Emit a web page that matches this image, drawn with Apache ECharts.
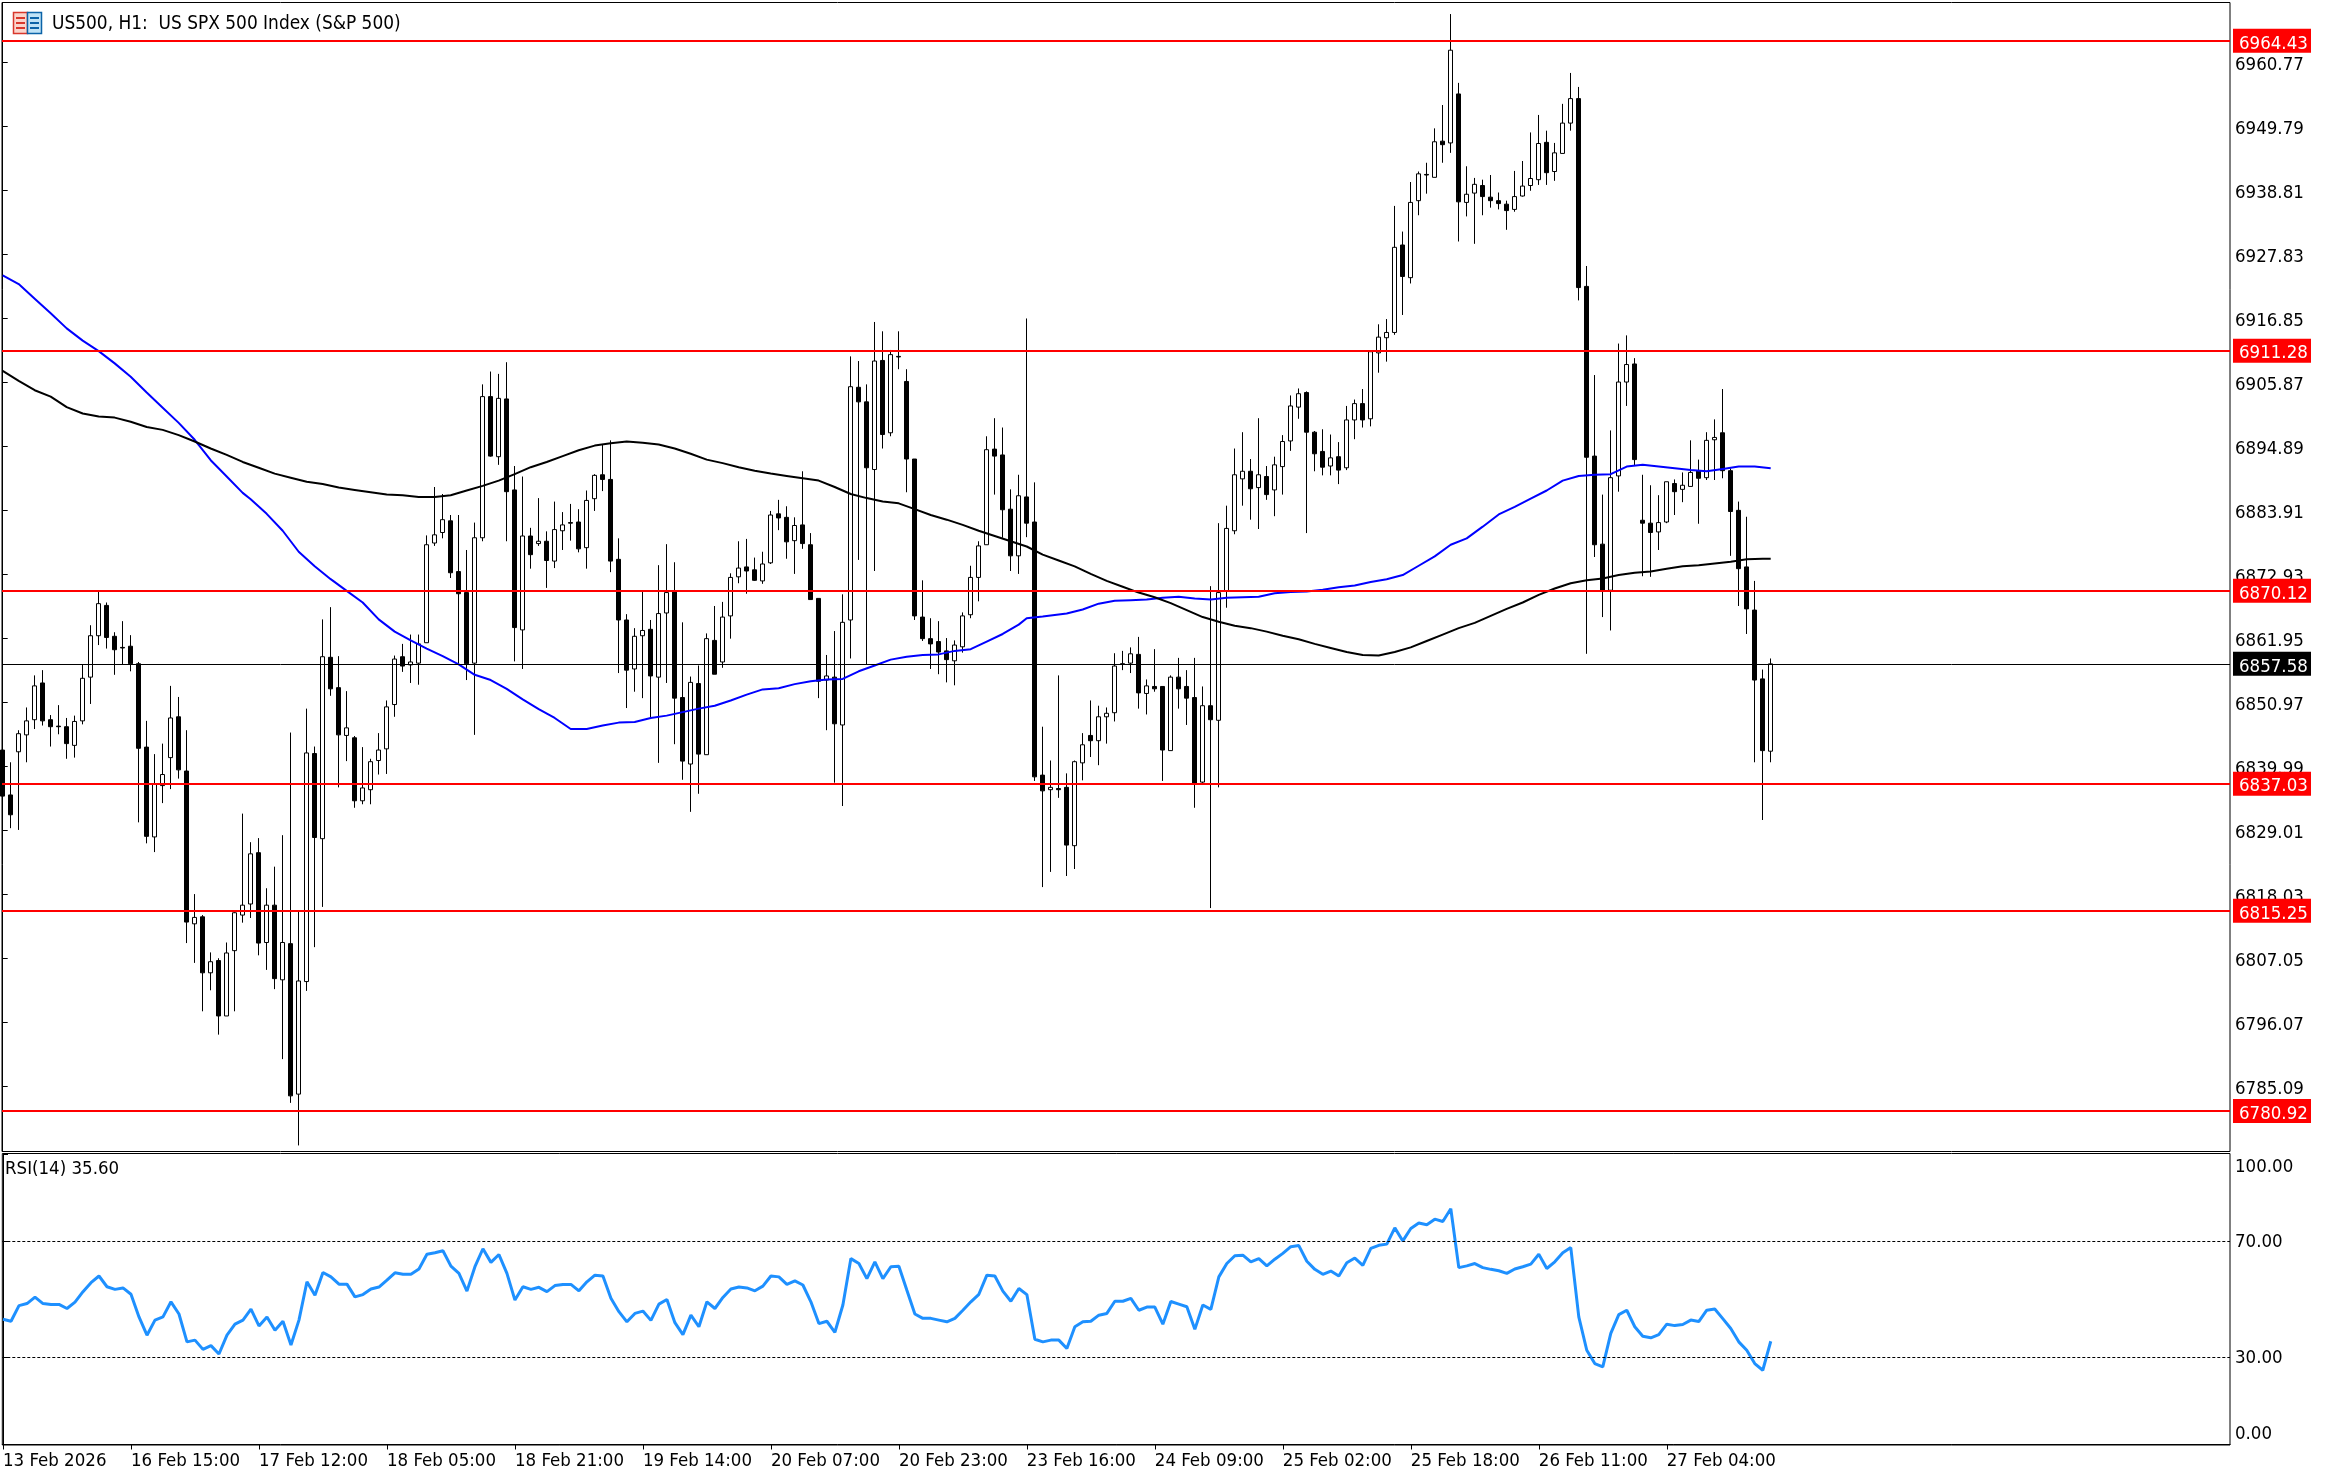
<!DOCTYPE html>
<html><head><meta charset="utf-8">
<style>html,body{margin:0;padding:0;background:#fff}#c{width:2326px;height:1478px}</style>
<script src="https://cdn.jsdelivr.net/npm/echarts@6/dist/echarts.min.js"></script>
</head><body><div id="c"></div>
<script>
const opens=[
6842.8,6835.1,6842.5,6845.4,6848.0,6854.3,6848.0,6846.9,6846.8,6843.6,
6847.8,6855.3,6862.4,6867.6,6862.3,6860.4,6860.6,6857.6,6843.3,6827.9,
6836.7,6841.5,6848.5,6839.2,6813.0,6814.2,6804.6,6806.7,6797.2,6808.4,
6814.5,6816.4,6825.2,6809.8,6816.2,6803.4,6809.6,6783.8,6803.1,6842.2,
6827.6,6858.7,6853.5,6845.3,6844.9,6834.1,6836.0,6841.0,6843.0,6850.6,
6858.8,6857.4,6857.7,6861.2,6878.3,6880.1,6882.1,6873.4,6869.8,6857.7,
6879.2,6903.4,6893.1,6903.0,6887.4,6863.4,6879.5,6878.2,6878.6,6875.2,
6880.4,6881.8,6881.9,6877.5,6885.9,6890.0,6889.2,6875.5,6865.1,6856.7,
6862.4,6863.5,6855.3,6866.3,6870.0,6851.8,6840.4,6854.2,6842.0,6861.6,
6857.9,6865.8,6872.5,6874.2,6873.7,6871.8,6874.9,6883.3,6882.7,6878.7,
6881.4,6878.0,6868.8,6854.8,6855.3,6847.1,6865.1,6905.0,6902.5,6890.9,
6909.6,6897.2,6910.3,6906.0,6892.7,6865.6,6861.9,6861.4,6859.8,6858.1,
6860.5,6866.0,6872.4,6878.0,6894.4,6893.4,6884.1,6876.1,6886.2,6881.9,
6838.5,6836.0,6836.2,6836.4,6826.4,6840.6,6845.3,6844.4,6848.5,6849.2,
6857.6,6857.7,6859.2,6852.5,6853.7,6853.7,6842.7,6855.3,6853.7,6851.8,
6837.3,6850.4,6847.9,6870.0,6880.4,6889.3,6890.6,6887.8,6889.7,6887.4,
6891.4,6895.8,6901.6,6904.1,6897.3,6894.0,6891.5,6893.1,6891.2,6899.4,
6902.2,6899.6,6910.9,6913.5,6914.4,6929.4,6923.8,6937.0,6941.5,6941.0,
6947.2,6946.9,6955.3,6936.7,6938.3,6939.6,6937.6,6937.0,6936.4,6935.5,
6937.8,6939.6,6940.6,6947.0,6942.0,6945.1,6950.3,6954.5,6922.3,6893.2,
6878.1,6870.2,6889.8,6905.9,6909.0,6882.2,6881.7,6880.2,6881.9,6888.5,
6887.5,6888.0,6890.7,6889.5,6896.0,6897.2,6890.7,6883.9,6874.2,6866.8,
6855.0,6842.6];
const closes=[
6834.9,6831.7,6845.6,6847.8,6853.8,6847.8,6846.8,6846.8,6843.9,6847.7,
6855.1,6862.4,6867.9,6862.1,6860.0,6860.3,6857.6,6843.1,6828.0,6836.9,
6838.6,6848.3,6839.4,6813.3,6814.1,6804.6,6806.5,6797.2,6808.0,6814.9,
6816.2,6825.0,6809.7,6816.2,6803.6,6809.8,6783.5,6803.2,6842.3,6827.8,
6858.8,6853.3,6845.4,6846.6,6834.1,6836.3,6840.8,6842.8,6850.2,6858.4,
6857.2,6857.9,6861.0,6878.0,6879.7,6882.3,6873.2,6869.6,6857.6,6879.2,
6903.4,6893.2,6903.1,6887.1,6863.8,6879.5,6876.3,6878.6,6875.3,6880.6,
6881.4,6881.7,6877.3,6885.6,6889.9,6889.2,6875.2,6865.1,6856.5,6862.3,
6863.3,6855.5,6866.2,6869.8,6851.7,6840.9,6854.4,6842.1,6861.9,6855.8,
6865.6,6872.4,6874.0,6873.5,6871.9,6874.7,6883.1,6882.6,6878.5,6881.3,
6878.2,6868.6,6854.6,6855.5,6847.3,6864.7,6905.1,6902.5,6891.2,6909.5,
6896.9,6910.6,6910.2,6892.7,6865.8,6861.9,6861.0,6859.6,6858.3,6860.8,
6865.8,6872.4,6877.8,6894.3,6893.2,6884.0,6876.1,6886.4,6881.7,6838.2,
6835.8,6836.4,6836.0,6826.5,6840.8,6843.7,6844.4,6848.5,6849.1,6857.2,
6857.5,6859.3,6852.6,6853.8,6853.3,6842.8,6855.3,6853.3,6851.7,6837.1,
6850.4,6848.0,6869.8,6880.8,6890.0,6890.6,6887.6,6890.0,6886.6,6891.7,
6895.7,6901.8,6903.9,6897.3,6893.6,6891.3,6892.9,6890.8,6899.4,6902.2,
6899.4,6911.1,6913.6,6914.4,6929.0,6924.0,6936.7,6941.6,6941.4,6947.1,
6946.6,6962.8,6936.8,6938.1,6939.8,6937.7,6937.0,6936.5,6935.3,6937.7,
6939.5,6940.8,6946.8,6941.8,6945.2,6950.3,6954.5,6922.1,6893.0,6878.0,
6870.2,6889.5,6905.9,6908.9,6892.6,6881.7,6880.1,6881.8,6888.8,6887.1,
6888.2,6890.4,6889.4,6895.9,6896.4,6890.7,6883.7,6873.9,6867.0,6854.8,
6842.7,6857.58];
const lows=[
6834.9,6829.4,6829.1,6840.7,6846.4,6847.0,6843.4,6845.5,6841.3,6841.5,
6847.2,6850.7,6860.8,6860.2,6855.7,6857.4,6856.3,6830.4,6826.8,6825.3,
6833.7,6836.1,6837.9,6809.7,6806.3,6798.0,6801.6,6794.0,6797.2,6798.0,
6813.2,6814.0,6807.6,6805.1,6801.8,6789.8,6782.3,6775.0,6801.5,6809.0,
6815.9,6852.1,6836.4,6840.9,6832.9,6833.5,6833.5,6838.6,6838.7,6848.5,
6856.2,6854.3,6854.0,6861.2,6877.8,6879.1,6872.3,6857.6,6854.8,6845.4,
6878.6,6893.1,6891.7,6878.6,6858.0,6856.7,6873.9,6877.8,6870.6,6874.0,
6877.1,6878.7,6876.7,6873.9,6883.8,6887.2,6873.3,6856.0,6850.0,6852.8,
6851.7,6848.3,6840.6,6854.3,6843.8,6837.7,6832.2,6835.3,6842.0,6855.8,
6856.9,6861.9,6871.4,6869.6,6871.8,6871.3,6874.7,6880.5,6875.6,6873.0,
6877.3,6868.6,6851.7,6846.2,6837.2,6833.2,6858.5,6875.4,6857.4,6873.5,
6894.5,6896.6,6908.1,6887.0,6865.1,6861.5,6856.7,6855.8,6854.4,6853.9,
6859.5,6865.4,6868.3,6878.0,6886.6,6879.2,6873.5,6873.0,6879.3,6837.5,
6819.3,6821.9,6834.6,6821.2,6822.4,6837.6,6841.6,6840.2,6843.9,6847.7,
6856.5,6856.0,6849.9,6848.9,6852.8,6837.5,6842.7,6849.9,6847.1,6832.9,
6836.8,6815.7,6836.4,6867.2,6879.8,6884.7,6882.3,6880.7,6885.7,6882.9,
6886.6,6894.1,6899.6,6880.0,6890.6,6889.9,6889.9,6888.4,6890.8,6896.1,
6898.1,6898.3,6907.5,6909.4,6914.0,6917.4,6922.8,6934.5,6938.2,6941.0,
6943.5,6945.2,6930.0,6934.3,6929.6,6934.5,6935.8,6935.5,6932.0,6935.1,
6937.7,6938.7,6939.7,6939.7,6940.4,6945.1,6949.0,6919.9,6859.3,6875.9,
6865.6,6863.3,6887.1,6901.8,6891.5,6872.6,6872.5,6877.1,6881.7,6883.1,
6885.3,6888.0,6881.6,6889.1,6889.1,6889.4,6876.1,6867.5,6862.7,6840.7,
6830.8,6840.7];
const highs=[
6842.8,6840.7,6846.2,6850.1,6855.6,6856.5,6848.8,6850.5,6848.3,6848.7,
6857.4,6864.2,6869.9,6868.1,6863.0,6864.9,6862.5,6857.9,6847.8,6842.1,
6843.9,6853.8,6851.9,6846.2,6818.1,6814.5,6808.1,6807.1,6809.8,6815.0,
6831.9,6827.0,6827.7,6819.1,6822.8,6828.2,6845.8,6815.2,6849.9,6843.4,
6865.2,6867.3,6858.9,6852.9,6845.2,6843.3,6841.3,6845.7,6851.3,6859.0,
6861.0,6862.6,6862.6,6879.6,6887.9,6886.7,6883.1,6883.1,6877.1,6881.8,
6905.5,6907.7,6907.3,6909.3,6891.5,6889.7,6880.9,6886.0,6880.3,6885.4,
6883.6,6885.0,6884.1,6887.3,6890.1,6895.1,6895.9,6879.1,6866.1,6863.7,
6870.0,6865.1,6874.5,6878.1,6875.0,6864.7,6855.4,6857.3,6862.8,6867.5,
6868.2,6873.1,6878.6,6879.0,6875.8,6876.8,6883.8,6885.7,6884.6,6882.7,
6890.6,6880.0,6868.8,6859.1,6863.2,6869.5,6910.3,6909.5,6905.5,6916.2,
6914.6,6911.4,6914.6,6908.1,6892.7,6871.9,6865.4,6864.9,6862.0,6861.6,
6866.4,6874.4,6878.6,6896.6,6899.7,6898.1,6887.5,6890.0,6916.8,6888.7,
6846.8,6841.0,6855.6,6838.8,6841.0,6845.7,6851.3,6850.4,6850.1,6859.4,
6859.8,6860.4,6862.2,6854.9,6860.1,6853.7,6855.6,6858.6,6856.5,6858.6,
6853.7,6870.9,6881.7,6884.7,6894.5,6897.3,6892.7,6899.7,6891.5,6893.1,
6896.8,6903.6,6904.8,6904.3,6897.5,6897.8,6896.9,6895.6,6901.8,6902.9,
6904.7,6911.1,6915.8,6916.7,6936.1,6931.7,6940.2,6942.0,6943.5,6949.4,
6953.4,6969.0,6957.2,6942.9,6940.9,6940.6,6941.4,6938.4,6937.0,6942.1,
6943.8,6948.7,6951.7,6949.0,6946.9,6953.6,6958.9,6956.5,6925.8,6907.1,
6886.6,6897.6,6912.5,6913.9,6910.0,6890.0,6888.2,6886.5,6888.8,6889.2,
6890.4,6895.9,6892.6,6897.3,6899.5,6904.7,6891.1,6885.4,6882.8,6871.8,
6856.6,6858.5];
const blueMA=[[0,6924.2],[2,6922.7],[4,6920.2],[6,6917.7],[8,6915.1],[10,6913.0],[12,6911.2],[14,6909.1],[16,6906.8],[18,6904.1],
[20,6901.5],[22,6898.9],[24,6896.0],[26,6892.5],[28,6889.7],[30,6886.9],[31,6885.8],[33,6883.3],[35,6880.4],[37,6876.8],
[39,6874.3],[41,6872.1],[43,6870.1],[45,6868.1],[47,6865.2],[49,6863.1],[51,6861.6],[53,6860.2],[55,6858.9],[57,6857.5],
[59,6855.7],[61,6854.8],[63,6853.3],[65,6851.5],[67,6849.8],[69,6848.3],[71,6846.4],[73,6846.4],[75,6847.0],[77,6847.5],
[79,6847.6],[81,6848.3],[83,6848.7],[85,6849.3],[87,6849.9],[89,6850.4],[91,6851.3],[93,6852.3],[95,6853.2],[97,6853.4],
[99,6854.1],[101,6854.6],[103,6854.9],[105,6855.0],[107,6856.3],[109,6857.3],[111,6858.3],[113,6858.8],[115,6859.1],[117,6859.2],
[119,6859.8],[121,6860.1],[123,6861.4],[125,6862.7],[127,6864.3],[128,6865.4],[130,6865.7],[133,6866.2],[135,6866.9],[137,6867.9],
[139,6868.4],[141,6868.5],[143,6868.6],[145,6868.9],[147,6869.1],[149,6868.8],[151,6868.6],[153,6868.9],[155,6869.0],[157,6869.1],
[159,6869.7],[161,6869.9],[163,6870.0],[165,6870.3],[167,6870.7],[169,6871.0],[171,6871.6],[173,6872.1],[175,6872.8],[177,6874.4],
[179,6876.0],[181,6878.0],[183,6879.1],[185,6881.1],[187,6883.2],[189,6884.5],[191,6885.9],[193,6887.3],[195,6889.0],[197,6889.8],
[199,6890.0],[201,6890.1],[203,6891.4],[205,6891.7],[207,6891.4],[209,6891.1],[211,6890.8],[213,6890.6],[215,6891.0],[217,6891.4],
[219,6891.4],[221,6891.1]];
const blackMA=[[0,6907.8],[2,6906.1],[4,6904.5],[6,6903.4],[8,6901.6],[10,6900.5],[12,6900.0],[14,6899.8],[16,6899.1],[18,6898.2],
[20,6897.7],[22,6896.8],[24,6895.7],[26,6894.5],[28,6893.4],[30,6892.2],[32,6891.2],[34,6890.2],[36,6889.5],[38,6888.8],
[40,6888.4],[42,6887.8],[44,6887.4],[46,6887.0],[48,6886.6],[50,6886.5],[52,6886.2],[54,6886.2],[56,6886.5],[58,6887.3],
[60,6888.1],[62,6889.0],[64,6890.1],[66,6891.3],[68,6892.2],[70,6893.2],[72,6894.2],[74,6895.0],[76,6895.4],[78,6895.7],
[80,6895.5],[82,6895.2],[84,6894.5],[86,6893.6],[88,6892.6],[90,6892.0],[92,6891.3],[94,6890.7],[96,6890.2],[98,6889.8],
[100,6889.4],[102,6889.0],[104,6887.9],[106,6886.7],[108,6886.0],[110,6885.4],[112,6885.1],[114,6884.1],[116,6883.1],[118,6882.3],
[120,6881.4],[122,6880.4],[124,6879.5],[126,6878.6],[128,6877.7],[130,6876.3],[132,6875.3],[134,6874.3],[136,6873.0],[138,6871.8],
[140,6870.8],[142,6869.8],[144,6869.0],[146,6868.0],[148,6866.8],[150,6865.6],[152,6864.8],[154,6864.1],[156,6863.7],[158,6863.1],
[160,6862.4],[162,6861.8],[164,6861.0],[166,6860.3],[168,6859.6],[170,6859.1],[172,6859.0],[174,6859.6],[176,6860.4],[178,6861.5],
[180,6862.6],[182,6863.7],[184,6864.6],[186,6865.8],[188,6867.0],[190,6868.1],[192,6869.4],[194,6870.5],[196,6871.4],[198,6871.9],
[200,6872.2],[202,6872.8],[204,6873.2],[206,6873.4],[208,6873.9],[210,6874.3],[212,6874.5],[214,6874.8],[216,6875.1],[218,6875.5],
[220,6875.6],[221,6875.6]];
const rsi=[
43.2,42.5,47.9,48.6,50.8,48.6,48.3,48.3,46.9,49.1,52.7,55.8,58.1,54.4,53.5,54.0,51.8,44.0,37.7,42.9,
44.0,49.2,45.0,35.4,36.0,32.8,34.1,31.2,37.7,41.5,42.9,46.7,40.9,44.0,39.4,42.5,34.3,42.9,56.1,51.5,
59.3,57.8,55.3,55.3,50.9,51.7,53.6,54.3,56.7,59.2,58.7,58.7,60.5,65.6,66.1,66.8,61.5,59.0,52.9,61.3,
67.5,62.8,65.5,59.0,49.8,54.4,53.5,54.2,52.7,54.8,55.2,55.2,53.0,56.1,58.4,58.1,50.4,45.8,42.3,45.2,
46.0,42.8,48.4,50.0,42.0,37.9,44.6,40.6,49.2,46.9,50.7,53.6,54.3,54.0,53.0,54.6,58.1,57.8,55.2,56.4,
55.0,49.2,41.7,42.5,38.7,48.1,64.1,62.4,57.2,63.0,57.2,61.3,61.5,53.2,45.0,43.5,43.5,42.9,42.3,43.5,
46.3,49.2,51.8,58.4,58.1,52.9,49.4,53.8,51.7,36.3,35.4,36.0,36.0,33.1,40.6,42.3,42.5,44.6,45.2,49.4,
49.4,50.4,46.3,47.4,47.4,41.5,49.3,48.4,47.5,39.7,48.1,46.6,57.8,62.4,65.1,65.3,63.0,64.1,61.6,63.9,
65.9,68.2,68.6,63.2,60.4,58.7,59.8,58.1,62.7,64.3,61.8,67.6,68.7,69.1,74.7,70.2,74.5,76.4,75.8,77.7,
76.9,81.3,61.0,61.6,62.4,61.0,60.4,59.9,59.0,60.5,61.3,62.2,65.6,60.7,63.0,66.1,67.9,44.0,32.5,27.9,
26.8,38.3,44.8,46.3,40.6,37.3,36.8,37.9,41.5,41.0,41.4,42.9,42.4,46.3,46.7,43.4,40.0,35.4,32.5,27.9,
25.6,35.6];
const redLevels=[6964.43,6911.28,6870.12,6837.03,6815.25,6780.92];
const lastPrice=6857.58;
const priceTicks=[6960.77,6949.79,6938.81,6927.83,6916.85,6905.87,6894.89,6883.91,6872.93,6861.95,6850.97,6839.99,6829.01,6818.03,6807.05,6796.07,6785.09];
const rsiTicks=[0,30,70,100];
const rsiGuides=[70,30];
const timeLabels=['13 Feb 2026','16 Feb 15:00','17 Feb 12:00','18 Feb 05:00','18 Feb 21:00','19 Feb 14:00','20 Feb 07:00','20 Feb 23:00','23 Feb 16:00','24 Feb 09:00','25 Feb 02:00','25 Feb 18:00','26 Feb 11:00','27 Feb 04:00'];
const timeStep=16;

const FONT='"DejaVu Sans Condensed","DejaVu Sans",sans-serif';
const FS=18.5;
const xMin=-0.0875,xMax=278.4125;
const timeTicks=timeLabels.map((_,k)=>k*timeStep);
const candleData=opens.map((o,i)=>[i,o,closes[i],lows[i],highs[i]]);
const tag=(c)=>({show:true,position:'end',distance:3,formatter:p=>'{t|'+p.value.toFixed(2)+'}',
  rich:{t:{color:'#fff',backgroundColor:c,fontFamily:FONT,fontSize:FS,width:72,height:18,lineHeight:18,padding:[6,0,0,6],align:'left'}}});
const chart=echarts.init(document.getElementById('c'),null,{renderer:'canvas',devicePixelRatio:1});
const frame={left:2,width:2228,show:true,borderColor:'#000',borderWidth:1,backgroundColor:'#fff'};
const axisText=(pad)=>({fontFamily:FONT,fontSize:FS,color:'#000',padding:pad});
chart.setOption({
  animation:false,backgroundColor:'#fff',
  title:[
    {text:'US500, H1:  US SPX 500 Index (S&P 500)',left:52,top:15,padding:0,textStyle:{fontFamily:FONT,fontSize:18.9,fontWeight:'normal',color:'#000'}},
    {text:'RSI(14) 35.60',left:5,top:1160,padding:0,textStyle:{fontFamily:FONT,fontSize:FS,fontWeight:'normal',color:'#000'}}
  ],
  graphic:[
    {type:'rect',shape:{x:13.5,y:12.5,width:14,height:21},style:{fill:'#fbd5cc',stroke:'#d8372c',lineWidth:1.5}},
    {type:'rect',shape:{x:27.5,y:12.5,width:14,height:21},style:{fill:'#bfe3f7',stroke:'#0b63a8',lineWidth:1.5}},
    {type:'rect',shape:{x:16,y:17,width:9,height:2},style:{fill:'#d8372c'}},
    {type:'rect',shape:{x:16,y:22,width:9,height:2},style:{fill:'#d8372c'}},
    {type:'rect',shape:{x:16,y:27,width:9,height:2},style:{fill:'#d8372c'}},
    {type:'rect',shape:{x:30,y:17,width:9,height:2},style:{fill:'#0b63a8'}},
    {type:'rect',shape:{x:30,y:22,width:9,height:2},style:{fill:'#0b63a8'}},
    {type:'rect',shape:{x:30,y:27,width:9,height:2},style:{fill:'#0b63a8'}}
  ],
  grid:[
    Object.assign({top:2.5,height:1149},frame),
    Object.assign({top:1153.5,height:291.5},frame)
  ],
  xAxis:[
    {type:'value',gridIndex:0,min:xMin,max:xMax,show:false,splitLine:{show:false}},
    {type:'value',gridIndex:1,min:xMin,max:xMax,splitLine:{show:false},
     axisLine:{show:true,lineStyle:{color:'#000',width:1}},
     axisTick:{show:true,length:5,customValues:timeTicks,lineStyle:{color:'#000',width:1}},
     axisLabel:{show:true,customValues:timeTicks,margin:7,align:'left',color:'#000',fontFamily:FONT,fontSize:FS,
       hideOverlap:false,showMinLabel:true,showMaxLabel:true,
       formatter:v=>timeLabels[Math.round(v/timeStep)]}}
  ],
  yAxis:[
    {type:'value',gridIndex:0,position:'right',min:6773.96,max:6970.98,scale:true,splitLine:{show:false},
     axisLine:{show:true,lineStyle:{color:'#000',width:1}},
     axisTick:{show:true,length:5,customValues:priceTicks,lineStyle:{color:'#000',width:1}},
     axisLabel:{show:true,customValues:priceTicks,margin:5,color:'#000',fontFamily:FONT,fontSize:FS,hideOverlap:false,
       rich:{p:axisText([6,0,0,0])},
       formatter:v=>'{p|'+v.toFixed(2)+'}'}},
    {type:'value',gridIndex:1,position:'right',min:-0.17,max:100.345,scale:true,splitLine:{show:false},
     axisLine:{show:true,lineStyle:{color:'#000',width:1}},
     axisTick:{show:true,length:5,customValues:rsiTicks,lineStyle:{color:'#000',width:1}},
     axisLabel:{show:true,customValues:rsiTicks,margin:5,color:'#000',fontFamily:FONT,fontSize:FS,hideOverlap:false,
       rich:{top:axisText([25,0,0,0]),mid:axisText([2,0,0,0]),bot:axisText([0,0,21,0])},
       formatter:v=>'{'+(v===100?'top':v===0?'bot':'mid')+'|'+v.toFixed(2)+'}'}}
  ],
  series:[
    {type:'candlestick',xAxisIndex:0,yAxisIndex:0,data:candleData,encode:{x:0,y:[1,2,3,4]},barWidth:4,clip:true,
     itemStyle:{color:'#fff',color0:'#000',borderColor:'#000',borderColor0:'#000',borderWidth:1},z:2},
    {type:'line',name:'MA blue',xAxisIndex:0,yAxisIndex:0,data:blueMA,showSymbol:false,symbol:'none',lineStyle:{color:'#0000ff',width:2},z:3},
    {type:'line',name:'MA black',xAxisIndex:0,yAxisIndex:0,data:blackMA,showSymbol:false,symbol:'none',lineStyle:{color:'#000',width:2},z:3,
     markLine:{silent:true,symbol:'none',animation:false,precision:2,
       data:[{yAxis:lastPrice,lineStyle:{color:'#000',width:1,type:'solid'},label:tag('#000')}]
        .concat(redLevels.map(v=>({yAxis:v,lineStyle:{color:'#ff0000',width:2,type:'solid'},label:tag('#ff0000')})))}},
    {type:'line',name:'RSI',xAxisIndex:1,yAxisIndex:1,data:rsi.map((v,i)=>[i,v]),showSymbol:false,symbol:'none',lineStyle:{color:'#1e90ff',width:3},z:3,
     markLine:{silent:true,symbol:'none',animation:false,label:{show:false},
       lineStyle:{color:'#000',width:1,type:[3,2]},
       data:rsiGuides.map(v=>({yAxis:v}))}}
  ]
});
</script></body></html>
